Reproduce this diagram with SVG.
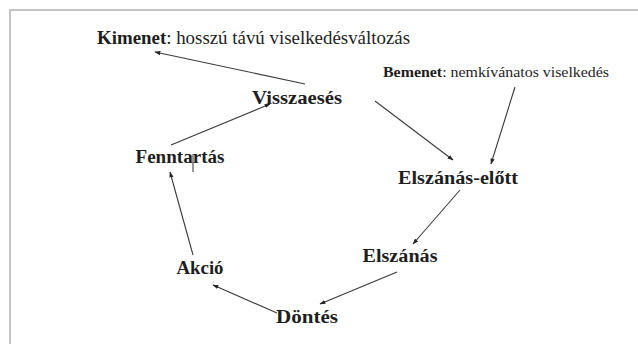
<svg xmlns="http://www.w3.org/2000/svg" width="638" height="344" viewBox="0 0 638 344">
<style>
text{font-family:'Liberation Serif','DejaVu Serif',serif;fill:#1e1e1e}
.n{font-size:18px;font-weight:bold;text-anchor:middle}
.e{stroke:#3a3a3a;stroke-width:1.1;fill:none;marker-end:url(#ah)}
</style>
<defs>
<marker id="ah" viewBox="0 0 10 10" refX="9" refY="5" markerWidth="6" markerHeight="6" orient="auto" markerUnits="userSpaceOnUse">
<path d="M0,1.5 L10,5 L0,8.5 z" fill="#222"/>
</marker>
</defs>
<rect width="638" height="344" fill="#fff"/>
<path d="M10,344 V10 H638" fill="none" stroke="#c4c4c4" stroke-width="2"/>
<g id="kimenet"><text x="97" y="44" font-family="Liberation Serif, serif" font-size="18.5" textLength="313" lengthAdjust="spacingAndGlyphs"><tspan font-weight="bold">Kimenet</tspan>: hosszú távú viselkedésváltozás</text></g>
<g id="bemenet"><text x="383" y="77" font-family="Liberation Serif, serif" font-size="14" textLength="226" lengthAdjust="spacingAndGlyphs"><tspan font-weight="bold">Bemenet</tspan>: nemkívánatos viselkedés</text></g>
<g id="visszaeses"><text class="n" font-family="Liberation Serif, serif" x="297" y="104" textLength="90" lengthAdjust="spacingAndGlyphs">Visszaesés</text></g>
<g id="elszanas-elott"><text class="n" font-family="Liberation Serif, serif" x="458" y="184" textLength="120" lengthAdjust="spacingAndGlyphs">Elszánás-előtt</text></g>
<g id="elszanas"><text class="n" font-family="Liberation Serif, serif" x="400" y="262" textLength="75" lengthAdjust="spacingAndGlyphs">Elszánás</text></g>
<g id="dontes"><text class="n" font-family="Liberation Serif, serif" x="307" y="323" textLength="62" lengthAdjust="spacingAndGlyphs">Döntés</text></g>
<g id="akcio"><text class="n" font-family="Liberation Serif, serif" x="200" y="274" textLength="47" lengthAdjust="spacingAndGlyphs">Akció</text></g>
<g id="fenntartas"><text class="n" font-family="Liberation Serif, serif" x="180" y="163" textLength="89" lengthAdjust="spacingAndGlyphs">Fenntartás</text><line x1="193" y1="154" x2="193" y2="172" stroke="#333" stroke-width="1"/></g>
<g id="connectors">
<line class="e" x1="305" y1="84" x2="155" y2="52"/>
<line class="e" x1="171" y1="145" x2="270" y2="104"/>
<line class="e" x1="375" y1="101" x2="453" y2="160"/>
<line class="e" x1="515" y1="87" x2="491" y2="164"/>
<line class="e" x1="460" y1="190" x2="413" y2="244"/>
<line class="e" x1="397" y1="272" x2="320" y2="304"/>
<line class="e" x1="277" y1="313" x2="213" y2="285"/>
<line class="e" x1="193" y1="255" x2="170" y2="172"/>
</g>
</svg>
